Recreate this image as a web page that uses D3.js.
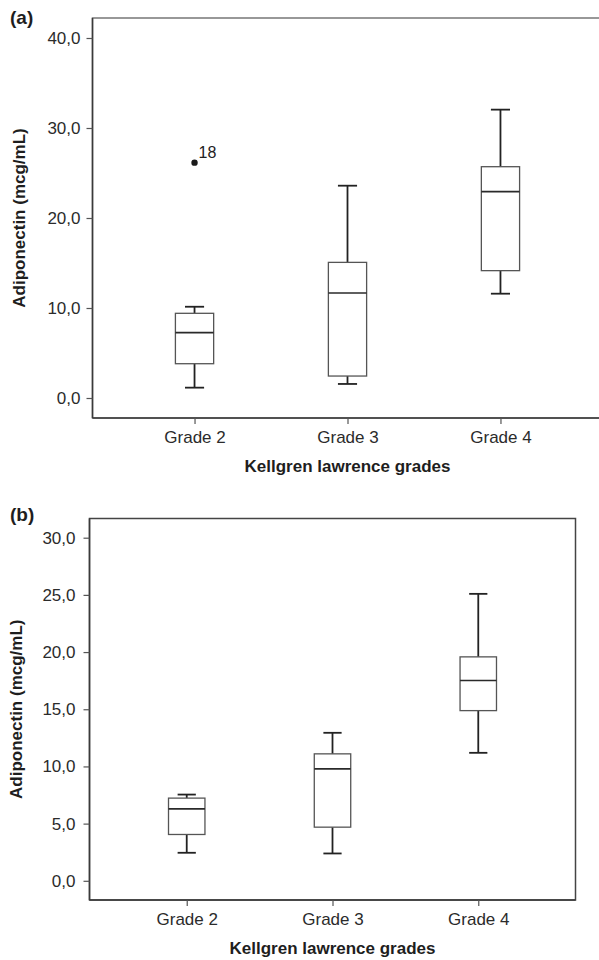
<!DOCTYPE html>
<html>
  <head>
    <meta charset="utf-8" />
    <title>Adiponectin by Kellgren Lawrence grade</title>
    <style>
      body { margin: 0; background: #fff; }
      svg { display: block; font-family: 'Liberation Sans', Arial, sans-serif; }
      .frame { fill: none; stroke: #3a3a3a; stroke-width: 1.5px; }
      .box { fill: #fff; stroke: #555; stroke-width: 1.3px; }
      .median { stroke: #2a2a2a; stroke-width: 1.6px; }
      .whisker { stroke: #222; stroke-width: 1.8px; }
      .axis text { font-size: 17px; fill: #2b2b2b; }
      .axis line { stroke: #555; stroke-width: 1.2px; }
      .axis path { display: none; }
      .title { font-size: 17px; font-weight: bold; fill: #1e1e1e; }
      .outlier-label { font-size: 16px; fill: #222; }
    </style>
    <script src="https://d3js.org/d3.v7.min.js"></script>
  </head>
  <body>
    <svg width="599" height="960"></svg>
    <script>
      var grades = ['Grade 2', 'Grade 3', 'Grade 4']

      // panel (a)
      var aMin = [1.15, 1.56, 11.59]
      var aQ1 = [3.81, 2.44, 14.15]
      var aMedian = [7.26, 11.67, 22.93]
      var aQ3 = [9.41, 15.07, 25.7]
      var aMax = [10.14, 23.59, 32.04]
      var aOutliers = [{ grade: 'Grade 2', value: 26.15, label: '18' }]
      var aTicks = [0, 10, 20, 30, 40]

      // panel (b)
      var bMin = [2.45, 2.39, 11.19]
      var bQ1 = [4.05, 4.69, 14.88]
      var bMedian = [6.29, 9.79, 17.51]
      var bQ3 = [7.23, 11.1, 19.58]
      var bMax = [7.54, 12.94, 25.09]
      var bOutliers = []
      var bTicks = [0, 5, 10, 15, 20, 25, 30]

      var svg = d3.select('svg')
      var comma = d3.formatLocale({
        decimal: ',',
        thousands: '.',
        grouping: [3],
        currency: ['', ''],
      }).format('.1f')

      function drawPanel(p) {
        var g = svg.append('g')
        var x = d3.scalePoint().domain(grades).range([p.left, p.right]).padding(0.667)
        var y = d3.scaleLinear().domain([0, p.ticks[p.ticks.length - 1]]).range([p.bottom - p.pad, p.top + p.pad])
        var bw = x.step() * 0.25

        // frame: light top/right, darker axis lines
        g.append('rect')
          .attr('class', 'frame')
          .attr('x', p.left)
          .attr('y', p.top)
          .attr('width', p.right - p.left)
          .attr('height', p.bottom - p.top)
          .style('stroke', p.frameColor)
        g.append('line')
          .attr('class', 'frame')
          .attr('x1', p.left).attr('x2', p.left)
          .attr('y1', p.top).attr('y2', p.bottom)
        g.append('line')
          .attr('class', 'frame')
          .attr('x1', p.left).attr('x2', p.right)
          .attr('y1', p.bottom).attr('y2', p.bottom)

        // y axis
        g.append('g')
          .attr('class', 'axis')
          .attr('transform', 'translate(' + p.left + ',0)')
          .call(d3.axisLeft(y).tickValues(p.ticks).tickFormat(comma).tickSize(6).tickPadding(p.tickPad))

        // x axis
        g.append('g')
          .attr('class', 'axis')
          .attr('transform', 'translate(0,' + p.bottom + ')')
          .call(d3.axisBottom(x).tickSize(6).tickPadding(7))

        // boxes
        var rows = grades.map(function (gr, i) {
          return { grade: gr, min: p.min[i], q1: p.q1[i], med: p.median[i], q3: p.q3[i], max: p.max[i] }
        })
        var box = g.selectAll('.bx').data(rows).enter().append('g').attr('class', 'bx')
        box.append('line').attr('class', 'whisker')
          .attr('x1', function (d) { return x(d.grade) }).attr('x2', function (d) { return x(d.grade) })
          .attr('y1', function (d) { return y(d.max) }).attr('y2', function (d) { return y(d.q3) })
        box.append('line').attr('class', 'whisker')
          .attr('x1', function (d) { return x(d.grade) }).attr('x2', function (d) { return x(d.grade) })
          .attr('y1', function (d) { return y(d.q1) }).attr('y2', function (d) { return y(d.min) })
        box.append('line').attr('class', 'whisker')
          .attr('x1', function (d) { return x(d.grade) - bw / 4 }).attr('x2', function (d) { return x(d.grade) + bw / 4 })
          .attr('y1', function (d) { return y(d.max) }).attr('y2', function (d) { return y(d.max) })
        box.append('line').attr('class', 'whisker')
          .attr('x1', function (d) { return x(d.grade) - bw / 4 }).attr('x2', function (d) { return x(d.grade) + bw / 4 })
          .attr('y1', function (d) { return y(d.min) }).attr('y2', function (d) { return y(d.min) })
        box.append('rect').attr('class', 'box')
          .attr('x', function (d) { return x(d.grade) - bw / 2 })
          .attr('width', bw)
          .attr('y', function (d) { return y(d.q3) })
          .attr('height', function (d) { return y(d.q1) - y(d.q3) })
        box.append('line').attr('class', 'median')
          .attr('x1', function (d) { return x(d.grade) - bw / 2 }).attr('x2', function (d) { return x(d.grade) + bw / 2 })
          .attr('y1', function (d) { return y(d.med) }).attr('y2', function (d) { return y(d.med) })

        // outliers
        g.selectAll('.outlier').data(p.outliers).enter().append('circle')
          .attr('class', 'outlier')
          .attr('cx', function (d) { return x(d.grade) })
          .attr('cy', function (d) { return y(d.value) })
          .attr('r', 3.2)
          .style('fill', '#1a1a1a')
        g.selectAll('.outlier-label').data(p.outliers).enter().append('text')
          .attr('class', 'outlier-label')
          .attr('x', function (d) { return x(d.grade) + 4 })
          .attr('y', function (d) { return y(d.value) - 5 })
          .text(function (d) { return d.label })

        // titles
        g.append('text').attr('class', 'title')
          .attr('x', x('Grade 3'))
          .attr('y', p.bottom + 54)
          .attr('text-anchor', 'middle')
          .text('Kellgren lawrence grades')
        g.append('text').attr('class', 'title')
          .attr('transform', 'translate(' + p.yTitleX + ',' + (p.top + p.bottom) / 2 + ') rotate(-90)')
          .attr('text-anchor', 'middle')
          .text('Adiponectin (mcg/mL)')
        g.append('text').attr('class', 'title')
          .attr('x', 10)
          .attr('y', p.top + p.labelDy)
          .style('font-size', '19px')
          .text(p.label)
      }

      drawPanel({
        label: '(a)', labelDy: 6,
        left: 92.5, right: 602.5, top: 18, bottom: 418, pad: 20,
        ticks: aTicks, tickPad: 6, yTitleX: 25, frameColor: '#777',
        min: aMin, q1: aQ1, median: aMedian, q3: aQ3, max: aMax, outliers: aOutliers,
      })
      drawPanel({
        label: '(b)', labelDy: 2,
        left: 89.5, right: 575.5, top: 518.5, bottom: 900, pad: 19.2,
        ticks: bTicks, tickPad: 8, yTitleX: 22, frameColor: '#444',
        min: bMin, q1: bQ1, median: bMedian, q3: bQ3, max: bMax, outliers: bOutliers,
      })
    </script>
  </body>
</html>
